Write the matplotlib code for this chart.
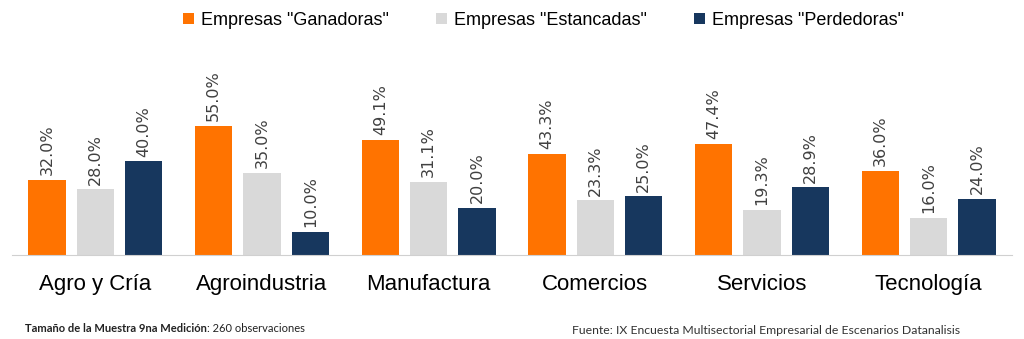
import numpy as np
import matplotlib.pyplot as plt
from matplotlib.patches import Patch

sectores = ["Agro y Cría", "Agroindustria", "Manufactura", "Comercios", "Servicios", "Tecnología"]
ganadoras = [32.0, 55.0, 49.1, 43.3, 47.4, 36.0]
estancadas = [28.0, 35.0, 31.1, 23.3, 19.3, 16.0]
perdedoras = [40.0, 10.0, 20.0, 25.0, 28.9, 24.0]
series_names = ['Empresas "Ganadoras"', 'Empresas "Estancadas"', 'Empresas "Perdedoras"']
colores = ["#FF7300", "#D9D9D9", "#17375E"]

fig = plt.figure(figsize=(10.24, 3.39), dpi=100)
ax = fig.add_axes([12/1024, 84/339, 1000/1024, 164/339])

x = np.arange(len(sectores))
w = 0.223
step = 0.29
for i, (vals, col) in enumerate(zip([ganadoras, estancadas, perdedoras], colores)):
    pos = x + (i - 1) * step
    ax.bar(pos, vals, width=w, color=col, zorder=2)
    for p, v in zip(pos, vals):
        ax.text(p, v + 2.0, f"{v:.1f}%", rotation=90, ha="center", va="bottom",
                fontsize=11.5, color="#404040", family="DejaVu Sans", clip_on=False)

ax.set_xlim(-0.5, 5.5)
ax.set_ylim(0, 70)
ax.set_yticks([])
ax.set_xticks(x)
ax.set_xticklabels(sectores, fontsize=16, family="Liberation Sans", color="#000000")
ax.tick_params(axis="x", length=0, pad=14)
for s in ["top", "right", "left"]:
    ax.spines[s].set_visible(False)
ax.spines["bottom"].set_color("#D0D0D0")
ax.patch.set_alpha(0)

handles = [Patch(facecolor=c, edgecolor="none") for c in colores]
fig.legend(handles, series_names, loc="center", bbox_to_anchor=(0.531, 0.94), ncol=3,
           frameon=False, prop={"family": "Liberation Sans", "size": 13},
           handlelength=0.6, handleheight=0.6, handletextpad=0.4, columnspacing=2.6)

# footer: bold part then regular part right after it
t1 = fig.text(25/1024, 1 - 328/339, "Tamaño de la Muestra 9na Medición", fontsize=8,
              family="Lato", fontweight="bold", color="#222222", va="center")
fig.canvas.draw()
bb = t1.get_window_extent()
fig.text(bb.x1 / 1024, 1 - 328/339, ": 260 observaciones", fontsize=8,
         family="Lato", color="#222222", va="center")
fig.text(572/1024, 1 - 330/339, "Fuente: IX Encuesta Multisectorial Empresarial de Escenarios Datanalisis",
         fontsize=8.8, family="Lato", color="#333333", va="center")

fig.savefig("out.png", dpi=100)
